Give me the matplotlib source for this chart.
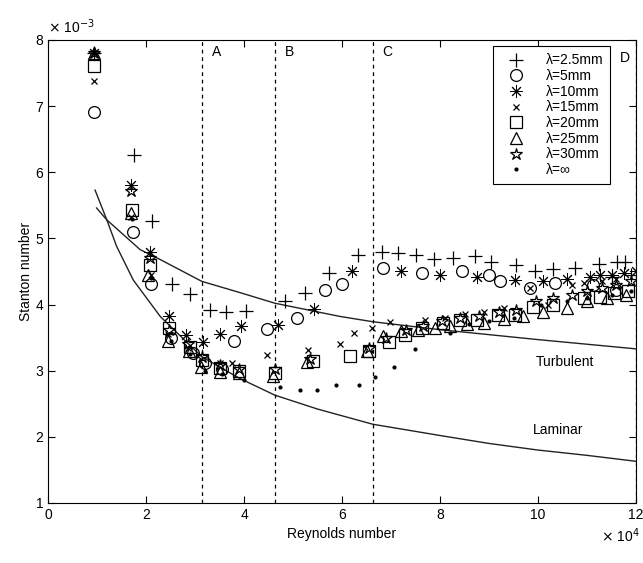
import matplotlib
matplotlib.use('Agg')
import matplotlib.pyplot as plt

plt.rcParams['font.family'] = ['Liberation Sans', 'DejaVu Sans']

# Reynolds number in 1e4, Stanton number in 1e-3
re_25 = [0.94, 1.76, 2.12, 2.52, 2.90, 3.31, 3.63, 4.05, 4.84, 5.24, 5.74, 6.33, 6.81, 7.15,
         7.51, 7.88, 8.27, 8.71, 9.03, 9.56, 9.94, 10.31, 10.76, 11.24, 11.61, 11.78, 11.5, 11.9]
st_25 = [7.8, 6.26, 5.26, 4.31, 4.16, 3.92, 3.88, 3.90, 4.05, 4.18, 4.48, 4.75, 4.80, 4.78,
         4.75, 4.69, 4.70, 4.74, 4.65, 4.60, 4.50, 4.53, 4.55, 4.61, 4.65, 4.65, 4.42, 4.45]

re_5 = [0.94, 1.74, 2.10, 2.50, 2.95, 3.20, 3.55, 3.80, 4.46, 5.09, 5.65, 5.99, 6.84, 7.63,
        8.44, 9.00, 9.22, 9.84, 10.35, 11.13, 11.6]
st_5 = [6.91, 5.10, 4.31, 3.50, 3.26, 3.12, 3.02, 3.45, 3.63, 3.79, 4.22, 4.31, 4.56, 4.48,
        4.50, 4.45, 4.35, 4.25, 4.32, 4.30, 4.22]

re_10 = [0.94, 1.69, 2.08, 2.46, 2.81, 3.17, 3.51, 3.94, 4.70, 5.43, 6.20, 7.20, 8.0, 8.75,
         9.53, 10.1, 10.6, 11.06, 11.27, 11.5, 11.75, 12.0]
st_10 = [7.8, 5.80, 4.80, 3.82, 3.54, 3.43, 3.56, 3.68, 3.69, 3.94, 4.51, 4.51, 4.45, 4.42,
         4.37, 4.35, 4.38, 4.42, 4.45, 4.45, 4.47, 4.50]

re_15 = [0.94, 1.70, 2.10, 2.45, 2.85, 3.50, 3.75, 4.46, 5.31, 5.96, 6.24, 6.61, 6.97, 7.69,
         8.1, 8.5, 8.9, 9.3, 9.84, 10.2, 10.69, 10.93, 11.3, 11.6]
st_15 = [7.38, 5.32, 4.45, 3.55, 3.35, 3.12, 3.12, 3.24, 3.31, 3.40, 3.57, 3.65, 3.74, 3.77,
         3.80, 3.85, 3.88, 3.95, 4.25, 4.00, 4.30, 4.32, 4.35, 4.38]

re_20 = [0.94, 1.72, 2.08, 2.46, 2.90, 3.15, 3.50, 3.90, 4.63, 5.41, 6.16, 6.55, 6.95, 7.29,
         7.63, 8.07, 8.41, 8.75, 9.19, 9.53, 9.90, 10.31, 10.93, 11.27, 11.54, 11.84]
st_20 = [7.61, 5.43, 4.60, 3.64, 3.36, 3.16, 3.04, 3.00, 2.96, 3.14, 3.22, 3.30, 3.44, 3.54,
         3.64, 3.72, 3.77, 3.77, 3.84, 3.84, 3.97, 4.00, 4.10, 4.12, 4.17, 4.20]

re_25mm = [0.94, 1.70, 2.05, 2.45, 2.88, 3.12, 3.50, 3.90, 4.60, 5.28, 6.50, 6.84, 7.20, 7.55,
           7.90, 8.20, 8.55, 8.90, 9.30, 9.70, 10.1, 10.6, 11.0, 11.4, 11.8]
st_25mm = [7.81, 5.38, 4.44, 3.45, 3.30, 3.06, 2.98, 2.97, 2.92, 3.13, 3.30, 3.52, 3.60, 3.62,
           3.65, 3.68, 3.70, 3.72, 3.78, 3.82, 3.88, 3.95, 4.05, 4.10, 4.15]

re_30 = [0.94, 1.69, 2.08, 2.46, 2.85, 3.15, 3.50, 3.90, 4.63, 5.35, 6.55, 6.90, 7.30, 7.65,
         8.05, 8.40, 8.80, 9.20, 9.55, 9.95, 10.3, 10.7, 11.0, 11.3, 11.6, 11.9]
st_30 = [7.80, 5.72, 4.70, 3.62, 3.40, 3.20, 3.08, 3.02, 3.02, 3.18, 3.35, 3.50, 3.62, 3.68,
         3.75, 3.80, 3.82, 3.88, 3.92, 4.05, 4.10, 4.15, 4.20, 4.25, 4.30, 4.35]

re_inf = [0.94, 1.72, 2.10, 2.50, 2.90, 3.20, 3.55, 3.99, 4.73, 5.14, 5.48, 5.87, 6.35, 6.67,
          7.06, 7.49, 8.2, 8.6, 9.0, 9.5, 10.07, 10.6, 11.0, 11.5, 11.9]
st_inf = [7.80, 5.30, 4.40, 3.45, 3.25, 3.00, 2.95, 2.86, 2.76, 2.71, 2.71, 2.79, 2.79, 2.91,
          3.06, 3.33, 3.57, 3.70, 3.75, 3.80, 4.00, 4.05, 4.10, 4.15, 4.20]

re_turb = [0.99, 1.2, 1.88, 2.29, 3.14, 3.92, 4.63, 5.96, 6.63, 8.0, 10.0, 12.0]
st_turb = [5.46, 5.28, 4.83, 4.68, 4.35, 4.18, 4.02, 3.82, 3.74, 3.62, 3.47, 3.33]

re_lam = [0.96, 1.2, 1.4, 1.74, 2.29, 3.14, 3.92, 4.63, 5.5, 6.63, 8.0, 9.0, 10.0, 11.0, 12.0]
st_lam = [5.73, 5.28, 4.88, 4.37, 3.82, 3.21, 2.88, 2.63, 2.42, 2.19, 2.02, 1.90, 1.80, 1.72, 1.63]

regions = ['A', 'B', 'C', 'D']
region_re = [3.14, 4.63, 6.63, 12.0]

fig = plt.figure(figsize=(6.43, 5.63), dpi=100)
ax = fig.add_axes([0.0747, 0.1066, 0.9145, 0.8224])

ax.plot(re_turb, st_turb, color='#222222', lw=1)
ax.plot(re_lam, st_lam, color='#222222', lw=1)

kw = dict(linestyle='none', color='black', markerfacecolor='none', markeredgewidth=0.9)
ax.plot(re_25, st_25, marker='+', ms=10, label='λ=2.5mm', **kw)
ax.plot(re_5, st_5, marker='o', ms=8.5, label='λ=5mm', **kw)
ax.plot(re_10, st_10, marker=(8, 2, 0), ms=9, linestyle='none', color='black',
        markeredgewidth=0.7, label='λ=10mm')
ax.plot(re_15, st_15, marker='x', ms=5, label='λ=15mm', **kw)
ax.plot(re_20, st_20, marker='s', ms=8.5, label='λ=20mm', **kw)
ax.plot(re_25mm, st_25mm, marker='^', ms=8.5, label='λ=25mm', **kw)
ax.plot(re_30, st_30, marker='*', ms=9, label='λ=30mm', **kw)
ax.plot(re_inf, st_inf, marker='.', ms=4, linestyle='none', color='black', label='λ=∞')

for name, xv in zip(regions, region_re):
    ax.axvline(xv, color='black', ls=(0, (3, 3)), lw=0.9)
    if name == 'D':
        ax.text(xv - 0.12, 7.72, name, fontsize=10, va='center', ha='right')
    else:
        ax.text(xv + 0.2, 7.82, name, fontsize=10, va='center')

ax.text(10.55, 3.13, 'Turbulent', fontsize=10, ha='center', va='center')
ax.text(10.4, 2.1, 'Laminar', fontsize=10, ha='center', va='center')

ax.set_xlim(0, 12)
ax.set_ylim(1, 8)
ax.set_xticks([0, 2, 4, 6, 8, 10, 12])
ax.set_yticks([1, 2, 3, 4, 5, 6, 7, 8])
ax.tick_params(direction='in', top=True, right=True, labelsize=10, length=5)
ax.set_xlabel('Reynolds number', fontsize=10)
ax.set_ylabel('Stanton number', fontsize=10, labelpad=2)
ax.text(0.0, 1.015, r'$\times$ 10$^{-3}$', transform=ax.transAxes, fontsize=10)
ax.text(0.94, -0.085, r'$\times$ 10$^{4}$', transform=ax.transAxes, fontsize=10)

leg = ax.legend(loc='upper right', bbox_to_anchor=(0.956, 0.986), borderaxespad=0,
                fancybox=False, edgecolor='black', framealpha=1, fontsize=10,
                handletextpad=0.9, handlelength=2.4, labelspacing=0.12, borderpad=0.5)
leg.get_frame().set_linewidth(0.8)

fig.savefig('out.png', dpi=100)
